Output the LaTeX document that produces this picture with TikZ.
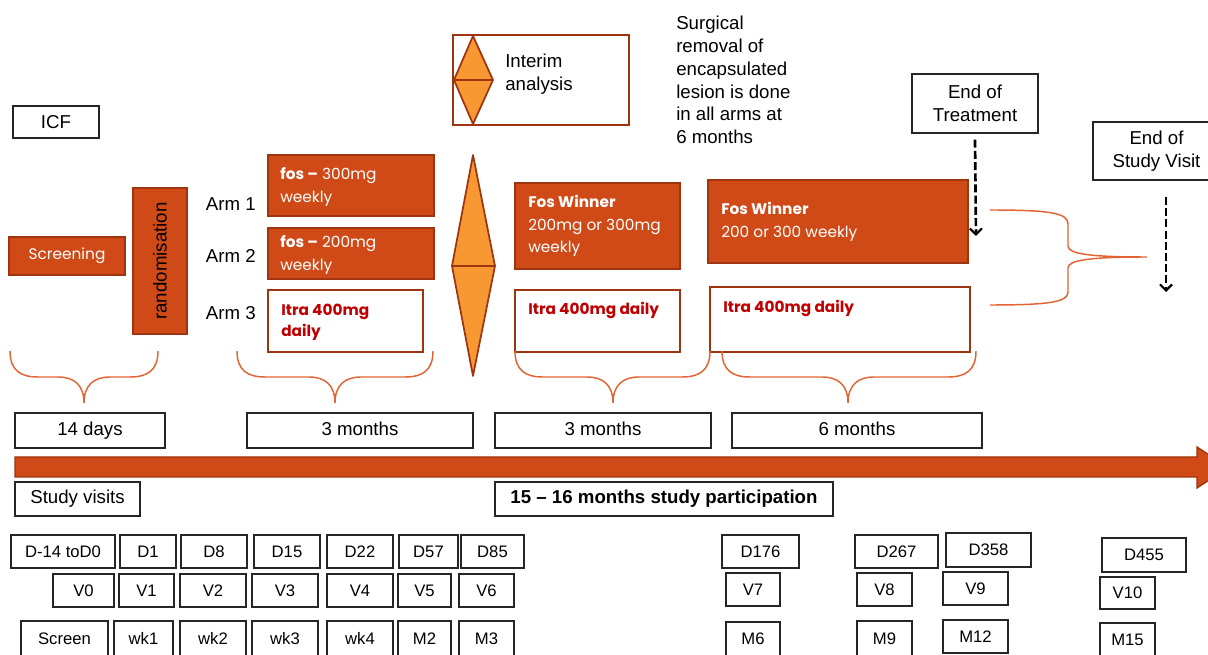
\documentclass[tikz,border=0pt]{standalone}
\usepackage{fontspec}
\setmainfont{Liberation Sans}
\newfontfamily\twc{Poppins}
\usetikzlibrary{arrows.meta}
\definecolor{oFill}{RGB}{208,74,24}
\definecolor{oLine}{RGB}{158,52,16}
\definecolor{dFill}{RGB}{247,152,50}
\definecolor{brc}{RGB}{226,100,52}
\definecolor{itraRed}{RGB}{192,0,0}
\newcommand\bx[7][]{%
 \pgfmathsetmacro\bxw{(#5-#3)*0.75}\pgfmathsetmacro\bxh{(#6-#4)*0.75}%
 \node[#1, minimum width=\bxw pt, minimum height=\bxh pt, inner sep=0pt, outer sep=0pt] (#2) at ({(#3+#5)/2},{(#4+#6)/2}) {#7};}
\newcommand\dbrace[3]{%
 \draw[brace] (#1,351) .. controls (#1,370) and ({#1+10},377) .. ({#1+28},377) -- ({#2-26},377)
  .. controls ({#2-10},377) and (#2,385) .. (#2,403)
  .. controls (#2,385) and ({#2+10},377) .. ({#2+26},377) -- ({#3-28},377)
  .. controls ({#3-10},377) and (#3,370) .. (#3,351);}
\begin{document}
\begin{tikzpicture}[x=0.75pt,y=-0.75pt,
  wbox/.style={draw=black!85, line width=1pt, fill=white, font=\fontsize{14}{17}\selectfont, align=center},
  vbox/.style={draw=black!85, line width=1pt, fill=white, font=\fontsize{12.5}{15}\selectfont},
  obox/.style={draw=oLine, fill=oFill, line width=1.4pt},
  ibox/.style={draw=oLine, fill=white, line width=1.4pt},
  otext/.style={font=\twc\fontsize{11.5}{17}\selectfont, text=white, align=left, inner sep=0pt, anchor=west},
  itext/.style={font=\twc\fontsize{11.5}{16}\selectfont\bfseries, text=itraRed, align=left, inner sep=0pt, anchor=west},
  ptext/.style={font=\fontsize{14}{17.1}\selectfont, align=left, inner sep=0pt},
  brace/.style={draw=brc, line width=1.1pt},
  diam/.style={draw=oLine, fill=dFill, line width=1.3pt, line join=round},
  dasharrow/.style={draw=black, line width=2pt, dash pattern=on 6pt off 2.4pt, -{Straight Barb[length=4.5pt,width=9pt,line width=1.6pt]}}
]
\useasboundingbox (0,0) rectangle (1208,655);
\clip (0,0) rectangle (1208,655);

% top-left
\bx[wbox]{icf}{13}{106}{99}{138}{ICF}
\bx[obox]{scr}{9}{237}{125}{275}{}
\node[font=\twc\fontsize{11.5}{14}\selectfont, text=white] (scrt) at (scr.center) {Screening};
\bx[obox]{rand}{133}{188}{187}{334}{}
\node[rotate=90, font=\fontsize{14}{17}\selectfont] (randt) at (rand.center) {randomisation};

% arm labels
\node[ptext, anchor=east] (arm1) at (256,204) {Arm 1};
\node[ptext, anchor=east] (arm2) at (256,256) {Arm 2};
\node[ptext, anchor=east] (arm3) at (256,313) {Arm 3};

% first period boxes
\bx[obox]{f300}{268}{155}{434}{216}{}
\node[otext] (f300t) at (280,187) {\textbf{fos –} 300mg\\weekly};
\bx[obox]{f200}{268}{228}{434}{279}{}
\node[otext] (f200t) at (280,255) {\textbf{fos –} 200mg\\weekly};
\bx[ibox]{itra1}{268}{290}{423}{352}{}
\node[itext] (itra1t) at (281,322) {Itra 400mg\\daily};

% diamond
\draw[diam] (473,155) -- (495,266) -- (473,376) -- (452,266) -- cycle;
\draw[draw=oLine, line width=1.3pt] (452,266) -- (495,266);

% interim box
\bx[ibox]{interim}{453}{35}{629}{125}{}
\draw[diam] (473,36) -- (493,80) -- (473,124) -- (454,80) -- cycle;
\draw[draw=oLine, line width=1.3pt] (454,80) -- (493,80);
\node[ptext, anchor=west] (interimt) at (505,74) {Interim\\analysis};

% surgical note
\node[ptext, anchor=west] (surg) at (676,80) {Surgical\\removal of\\encapsulated\\lesion is done\\in all arms at\\6 months};

% second period
\bx[obox]{fw1}{515}{183}{680}{269}{}
\node[otext] (fw1t) at (528,226) {\textbf{Fos Winner}\\200mg or 300mg\\weekly};
\bx[ibox]{itra2}{515}{290}{680}{352}{}
\node[itext] (itra2t) at (528,310) {Itra 400mg daily};

% third period
\bx[obox]{fw2}{708}{180}{968}{263}{}
\node[otext] (fw2t) at (721,222) {\textbf{Fos Winner}\\200 or 300 weekly};
\bx[ibox]{itra3}{710}{287}{970}{352}{}
\node[itext] (itra3t) at (723,308) {Itra 400mg daily};

% end of treatment / study
\bx[wbox]{eot}{912}{74}{1038}{133}{End of\\Treatment}
\coordinate (eotEnd) at (976,236);
\draw[dasharrow] ([yshift=-5pt]eot.south) -- (eotEnd);
\bx[wbox]{eos}{1093}{122}{1220}{180}{End of\\Study Visit}
\coordinate (eosStart) at (1166,197);
\coordinate (eosEnd) at (1166,292);
\draw[dasharrow] (eosStart) -- (eosEnd);

% right brace
\draw[brace] (990,210) .. controls (1050,210) and (1068,213) .. (1068,224) -- (1068,246)
  .. controls (1068,254) and (1090,257) .. (1147,257)
  .. controls (1090,257) and (1068,260) .. (1068,268) -- (1068,292)
  .. controls (1068,302) and (1050,305) .. (990,305);

% bottom braces
\dbrace{10}{84}{158}
\dbrace{237}{335}{433}
\dbrace{515}{613}{710}
\dbrace{722}{848}{976}

% durations
\bx[wbox]{dur1}{15}{413}{165}{448}{\strut 14 days}
\bx[wbox]{dur2}{247}{413}{473}{448}{\strut 3 months}
\bx[wbox]{dur3}{495}{413}{711}{448}{\strut 3 months}
\bx[wbox]{dur4}{732}{413}{982}{448}{\strut 6 months}

% timeline arrow
\filldraw[fill=oFill, draw=oLine, line width=1pt] (15,457) -- (1197,457) -- (1197,447) -- (1228,467.5) -- (1197,488) -- (1197,477) -- (15,477) -- cycle;

\bx[wbox]{sv}{15}{482}{140}{516}{\strut Study visits}
\bx[wbox]{part}{495}{482}{833}{516}{\strut\textbf{15 – 16 months study participation}}

% visit boxes row 1
\bx[vbox]{d0}{11}{535}{115}{568}{D-14 toD0}
\bx[vbox]{d1}{120}{535}{176}{568}{D1}
\bx[vbox]{d8}{181}{535}{247}{568}{D8}
\bx[vbox]{d15}{254}{535}{320}{568}{D15}
\bx[vbox]{d22}{327}{535}{393}{568}{D22}
\bx[vbox]{d57}{399}{535}{458}{568}{D57}
\bx[vbox]{d85}{461}{535}{524}{568}{D85}
% row 2
\bx[vbox]{v0}{53}{574}{114}{607}{V0}
\bx[vbox]{v1}{119}{574}{174}{607}{V1}
\bx[vbox]{v2}{180}{574}{246}{607}{V2}
\bx[vbox]{v3}{252}{574}{318}{607}{V3}
\bx[vbox]{v4}{327}{574}{393}{607}{V4}
\bx[vbox]{v5}{398}{574}{451}{607}{V5}
\bx[vbox]{v6}{459}{574}{514}{607}{V6}
% row 3
\bx[vbox]{scrn}{21}{621}{108}{656}{Screen}
\bx[vbox]{wk1}{114}{621}{173}{656}{wk1}
\bx[vbox]{wk2}{180}{621}{246}{656}{wk2}
\bx[vbox]{wk3}{252}{621}{318}{656}{wk3}
\bx[vbox]{wk4}{327}{621}{393}{656}{wk4}
\bx[vbox]{m2}{398}{621}{451}{656}{M2}
\bx[vbox]{m3}{459}{621}{514}{656}{M3}
% right groups
\bx[vbox]{d176}{722}{535}{799}{568}{D176}
\bx[vbox]{v7}{726}{573}{780}{606}{V7}
\bx[vbox]{m6}{726}{622}{780}{656}{M6}
\bx[vbox]{d267}{855}{535}{938}{568}{D267}
\bx[vbox]{v8}{857}{573}{912}{606}{V8}
\bx[vbox]{m9}{857}{621}{912}{656}{M9}
\bx[vbox]{d358}{946}{533}{1031}{567}{D358}
\bx[vbox]{v9}{943}{572}{1008}{605}{V9}
\bx[vbox]{m12}{943}{620}{1008}{653}{M12}
\bx[vbox]{d455}{1102}{538}{1186}{572}{D455}
\bx[vbox]{v10}{1100}{577}{1155}{609}{V10}
\bx[vbox]{m15}{1100}{623}{1155}{657}{M15}
\end{tikzpicture}
\end{document}
